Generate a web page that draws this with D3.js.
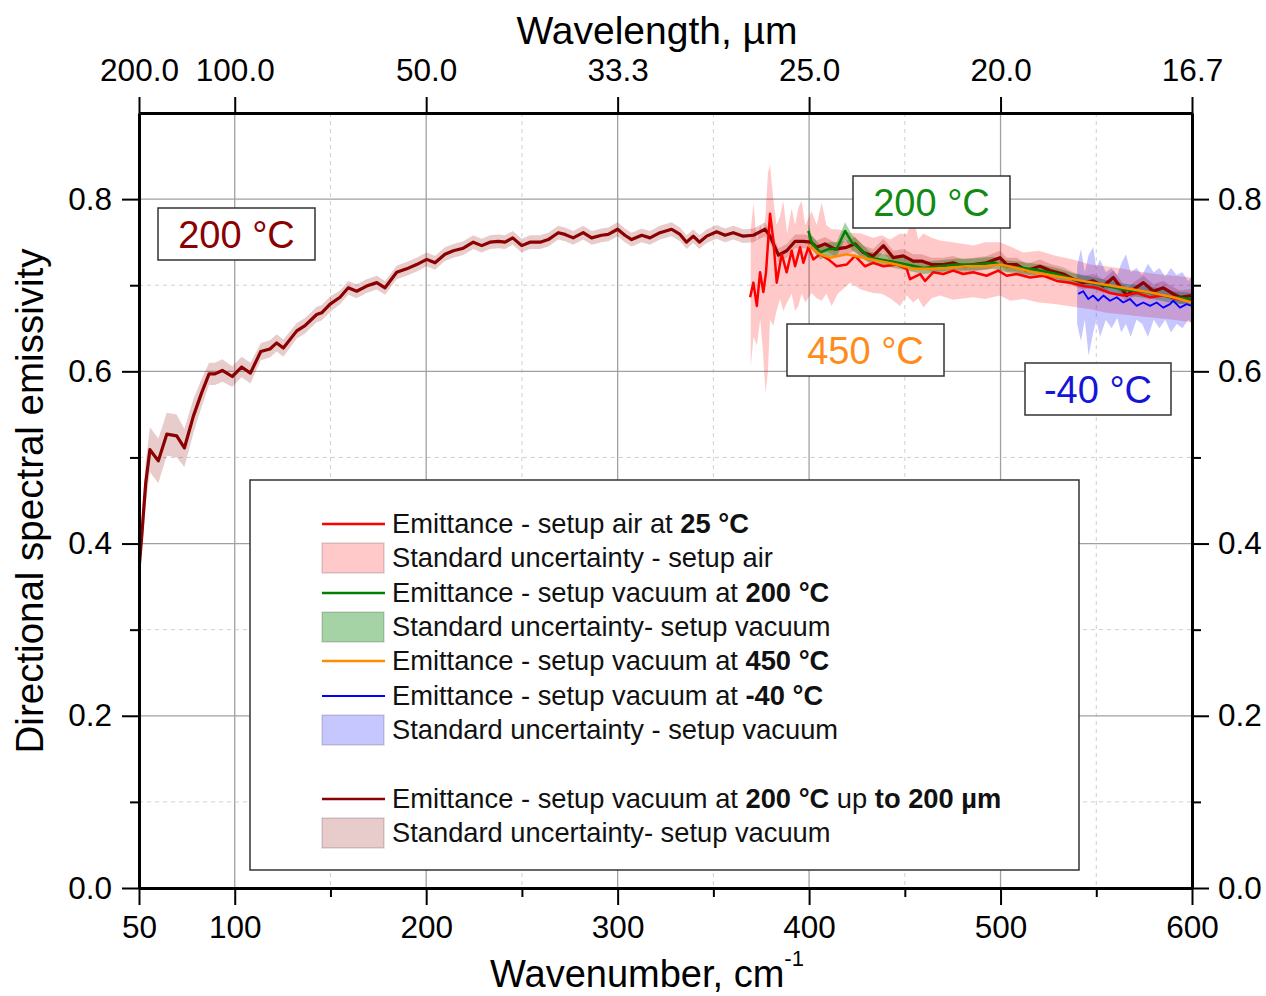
<!DOCTYPE html>
<html><head><meta charset="utf-8">
<script src="https://cdn.jsdelivr.net/npm/d3@7"></script>
<style>
html,body{margin:0;padding:0;background:#fff;}
svg{display:block;font-family:"Liberation Sans",Arial,sans-serif;}
</style></head>
<body><svg id="c" width="1266" height="996"></svg>
<script>
// ---------- DATA ----------
// x tick values (wavenumber, cm-1) and top-axis wavelength labels (µm)
const xMajorTicks = [50,100,200,300,400,500,600];
const xMinorTicks = [150,250,350,450,550];
const topTickLabels = ["200.0","100.0","50.0","33.3","25.0","20.0","16.7"];
const yMajorTicks = [0.0,0.2,0.4,0.6,0.8];
const yMinorTicks = [0.1,0.3,0.5,0.7];

// Emittance - setup vacuum at 200 °C up to 200 µm (dark red) + standard uncertainty
const darkX = [50,51.4,53.5,55.7,60.1,64.5,69.7,73.7,78.4,82.7,86.6,89.7,93.5,98.7,103.6,108.2,113.6,118.4,121.9,125.4,132.4,136.7,142.8,145.4,149.8,155,159.3,163.7,168.9,174.2,178.5,184.6,189.8,195,200.3,204.6,209.8,214.2,219.4,224.6,229,233.3,237.7,241.2,245.2,249.9,254.2,259.5,263.8,269,272.5,276.8,282,286.4,291.6,295.1,300,303.8,307.3,312.6,316.9,322.1,328.2,332.6,336,339.5,342.7,346.5,351.7,356.1,360.4,365.6,370.9,377,379.6,384,388.3,392.7,397,401,404,408.3,413.5,419.6,424,428.3,433.5,438.8,444,449.2,454.4,458.8,464,470.1,475.3,480.5,485.8,492.7,499.7,503.2,508.4,513.6,520.6,525.8,532.8,538,543.2,548.4,553.7,558.9,565.9,569.3,574.6,579.8,585,590.2,593.7,600];
const darkY = [0.370,0.408,0.470,0.509,0.496,0.527,0.525,0.511,0.548,0.575,0.597,0.597,0.601,0.594,0.605,0.598,0.623,0.626,0.633,0.627,0.647,0.653,0.666,0.668,0.678,0.686,0.697,0.693,0.699,0.703,0.697,0.715,0.719,0.724,0.730,0.726,0.736,0.740,0.743,0.750,0.746,0.750,0.751,0.750,0.755,0.746,0.750,0.750,0.753,0.761,0.759,0.755,0.761,0.755,0.758,0.759,0.765,0.758,0.753,0.758,0.755,0.761,0.765,0.759,0.750,0.757,0.750,0.757,0.762,0.758,0.761,0.757,0.758,0.765,0.757,0.735,0.740,0.751,0.751,0.750,0.744,0.748,0.742,0.744,0.748,0.738,0.734,0.746,0.732,0.734,0.728,0.728,0.724,0.724,0.726,0.722,0.724,0.726,0.732,0.724,0.724,0.717,0.722,0.717,0.713,0.707,0.703,0.705,0.699,0.709,0.688,0.695,0.703,0.693,0.697,0.690,0.686,0.688];
const darkU = [0.020,0.022,0.025,0.026,0.026,0.025,0.025,0.022,0.020,0.016,0.013,0.013,0.013,0.012,0.012,0.012,0.010,0.010,0.010,0.010,0.009,0.009,0.009,0.009,0.009,0.008,0.008,0.008,0.008,0.008,0.008,0.008,0.008,0.008,0.008,0.008,0.008,0.008,0.008,0.008,0.008,0.008,0.008,0.008,0.008,0.008,0.008,0.008,0.008,0.008,0.008,0.008,0.008,0.008,0.008,0.008,0.008,0.008,0.008,0.008,0.008,0.008,0.008,0.008,0.008,0.008,0.008,0.008,0.008,0.008,0.008,0.008,0.008,0.008,0.008,0.008,0.008,0.008,0.008,0.008,0.008,0.008,0.008,0.008,0.008,0.008,0.008,0.008,0.008,0.008,0.008,0.008,0.008,0.008,0.008,0.008,0.008,0.008,0.008,0.008,0.008,0.008,0.008,0.008,0.008,0.008,0.008,0.008,0.008,0.008,0.008,0.008,0.008,0.008,0.008,0.008,0.008,0.008];

// Emittance - setup air at 25 °C (red)
const airX = [369.2,370.9,372.7,374.4,376.1,377.5,379.6,381.3,383.1,385.7,388.3,390.9,392.7,395.3,397,399.6,402.2,405.7,410.1,414.4,419.6,424,429.2,433.5,438.8,445.8,451,452.7,458,460.6,464.8,470.1,475.3,480.5,485.8,492.7,498.8,503.2,508.4,515.4,522.4,529.3,536.3,543.2,550.2,557.2,564.1,571.1,578.1,585,592,600];
const airY = [0.686,0.703,0.676,0.715,0.692,0.715,0.783,0.753,0.703,0.736,0.715,0.740,0.722,0.744,0.726,0.744,0.730,0.736,0.730,0.722,0.724,0.734,0.722,0.726,0.722,0.724,0.719,0.707,0.713,0.705,0.715,0.713,0.717,0.713,0.715,0.711,0.717,0.711,0.713,0.709,0.711,0.705,0.703,0.699,0.697,0.691,0.688,0.691,0.686,0.688,0.684,0.682];
// Standard uncertainty - setup air (band limits)
const airBandX  = [369.5,371,372.7,374.5,376,377.2,378.5,379.6,381.3,383,384.8,386.5,388.5,390.9,392.7,394.4,396.1,398,401.3,404,406.6,409,411.8,415,421.4,427,433.5,438,442.3,447.5,451,454.4,457,459.7,464,468.4,475,485.8,492,499.7,505,511.9,520,529.3,538,546.7,555,564,572,581.5,590,600];
const airBandLo = [0.605,0.640,0.630,0.660,0.620,0.575,0.600,0.660,0.653,0.670,0.684,0.670,0.680,0.690,0.670,0.676,0.690,0.680,0.691,0.685,0.682,0.690,0.676,0.690,0.703,0.695,0.691,0.690,0.685,0.676,0.688,0.680,0.685,0.674,0.685,0.688,0.683,0.686,0.684,0.688,0.682,0.684,0.680,0.678,0.675,0.672,0.668,0.666,0.664,0.662,0.660,0.657];
const airBandHi = [0.765,0.795,0.750,0.770,0.760,0.780,0.830,0.840,0.800,0.770,0.780,0.798,0.760,0.789,0.770,0.790,0.798,0.770,0.786,0.770,0.796,0.770,0.765,0.765,0.761,0.760,0.755,0.758,0.753,0.760,0.759,0.781,0.753,0.760,0.755,0.752,0.750,0.746,0.750,0.750,0.745,0.738,0.740,0.734,0.730,0.724,0.722,0.719,0.716,0.713,0.711,0.709];

// Emittance - setup vacuum at 200 °C (green) + uncertainty
const vac200X = [399.6,401.3,405.7,410.1,414.4,418.8,422.3,426.6,431.8,437.1,442.3,451,459.7,468.4,477.1,485.8,496.3,503.2,511.9,520.6,529.3,538,546.7,555.4,564.1,572.8,581.5,590.2,600];
const vac200Y = [0.763,0.750,0.738,0.742,0.742,0.763,0.750,0.742,0.732,0.730,0.728,0.724,0.720,0.722,0.724,0.724,0.726,0.722,0.720,0.717,0.713,0.707,0.703,0.699,0.695,0.693,0.690,0.686,0.684];
const vac200U = [0.008,0.008,0.008,0.008,0.008,0.010,0.009,0.008,0.007,0.007,0.007,0.007,0.007,0.007,0.007,0.007,0.007,0.007,0.007,0.007,0.007,0.007,0.007,0.007,0.007,0.007,0.007,0.007,0.007];

// Emittance - setup vacuum at 450 °C (orange)
const vac450X = [399.6,405.7,410.9,419.6,428.3,437.1,445.8,454.4,463.1,471.9,482.3,492.7,499.7,508.4,517.1,527.6,538,548.4,558.9,569.3,579.8,590.2,600];
const vac450Y = [0.746,0.736,0.732,0.736,0.732,0.728,0.724,0.719,0.719,0.720,0.722,0.722,0.724,0.720,0.715,0.711,0.707,0.703,0.699,0.695,0.691,0.686,0.680];

// Emittance - setup vacuum at -40 °C (blue) + uncertainty band
const vacM40X = [540.6,543.2,545.8,548.4,551,553.7,557.2,560.7,564.1,567.6,571.1,574.6,578.1,581.5,585,588.5,590.2,593.7,597.2,600];
const vacM40Y = [0.690,0.693,0.684,0.688,0.682,0.688,0.682,0.686,0.680,0.684,0.676,0.680,0.676,0.680,0.674,0.678,0.682,0.674,0.678,0.676];
const m40BandX  = [540,542,544,546,548.4,550,552,555,558,561,563,565.5,568,571,574,577,580,583,586,589,592,595,598,600];
const m40BandLo = [0.655,0.635,0.660,0.618,0.645,0.660,0.640,0.660,0.650,0.662,0.645,0.655,0.640,0.660,0.655,0.640,0.660,0.650,0.660,0.645,0.655,0.650,0.660,0.655];
const m40BandHi = [0.722,0.742,0.715,0.735,0.744,0.720,0.730,0.715,0.720,0.712,0.725,0.736,0.715,0.720,0.712,0.725,0.715,0.720,0.710,0.720,0.712,0.715,0.705,0.710];

// Colours
const C = {
  dark:"#8b0000", darkBand:"rgba(139,0,0,0.2)",
  air:"#ff0000", airBand:"rgba(255,0,0,0.21)",
  green:"#008000", greenBand:"rgba(0,128,0,0.35)",
  orange:"#ff8c00", blue:"#0000ff", blueBand:"rgba(0,0,255,0.22)"
};

// ---------- CHART ----------
const svg = d3.select("#c");
const L=139,R=1192,T=113,B=888;
const x = d3.scaleLinear().domain([50,600]).range([L,R]);
const y = d3.scaleLinear().domain([0,0.9]).range([B,T]);

// grid
const g = svg.append("g");
g.selectAll(".gxm").data(xMajorTicks.filter(v=>v>50&&v<600)).join("line")
  .attr("x1",d=>x(d)).attr("x2",d=>x(d)).attr("y1",T).attr("y2",B)
  .attr("stroke","#a0a0a0").attr("stroke-width",1.3);
g.selectAll(".gxn").data(xMinorTicks).join("line")
  .attr("x1",d=>x(d)).attr("x2",d=>x(d)).attr("y1",T).attr("y2",B)
  .attr("stroke","#cfcfcf").attr("stroke-width",1).attr("stroke-dasharray","4,4");
g.selectAll(".gym").data(yMajorTicks.filter(v=>v>0)).join("line")
  .attr("y1",d=>y(d)).attr("y2",d=>y(d)).attr("x1",L).attr("x2",R)
  .attr("stroke","#a0a0a0").attr("stroke-width",1.3);
g.selectAll(".gyn").data(yMinorTicks).join("line")
  .attr("y1",d=>y(d)).attr("y2",d=>y(d)).attr("x1",L).attr("x2",R)
  .attr("stroke","#cfcfcf").attr("stroke-width",1).attr("stroke-dasharray","4,4");

// bands
function bandXY(xs, lo, hi){ return d3.area().x((d,i)=>x(xs[i])).y0((d,i)=>y(lo[i])).y1((d,i)=>y(hi[i]))(xs); }
function lineXY(xs, ys){ return d3.line().x((d,i)=>x(xs[i])).y((d,i)=>y(ys[i]))(xs); }
svg.append("clipPath").attr("id","pc").append("rect").attr("x",L).attr("y",T).attr("width",R-L).attr("height",B-T);
const pg = svg.append("g").attr("clip-path","url(#pc)");

pg.append("path").attr("d",bandXY(darkX, darkY.map((v,i)=>v-darkU[i]), darkY.map((v,i)=>v+darkU[i]))).attr("fill",C.darkBand);
pg.append("path").attr("d",bandXY(airBandX, airBandLo, airBandHi)).attr("fill",C.airBand);
pg.append("path").attr("d",bandXY(vac200X, vac200Y.map((v,i)=>v-vac200U[i]), vac200Y.map((v,i)=>v+vac200U[i]))).attr("fill",C.greenBand);
pg.append("path").attr("d",bandXY(m40BandX, m40BandLo, m40BandHi)).attr("fill",C.blueBand);

// lines
pg.append("path").attr("d",lineXY(darkX,darkY)).attr("fill","none").attr("stroke",C.dark).attr("stroke-width",3.2).attr("stroke-linejoin","round");
pg.append("path").attr("d",lineXY(airX,airY)).attr("fill","none").attr("stroke",C.air).attr("stroke-width",2.5).attr("stroke-linejoin","round");
pg.append("path").attr("d",lineXY(vac200X,vac200Y)).attr("fill","none").attr("stroke",C.green).attr("stroke-width",2.5).attr("stroke-linejoin","round");
pg.append("path").attr("d",lineXY(vac450X,vac450Y)).attr("fill","none").attr("stroke",C.orange).attr("stroke-width",2.5).attr("stroke-linejoin","round");
pg.append("path").attr("d",lineXY(vacM40X,vacM40Y)).attr("fill","none").attr("stroke",C.blue).attr("stroke-width",1.8).attr("stroke-linejoin","round");

// axes
const TICK_FS = 31.5;
function styleAxis(sel, fs){
  sel.select(".domain").attr("stroke","#000").attr("stroke-width",3);
  sel.selectAll(".tick line").attr("stroke","#000").attr("stroke-width",2);
  sel.selectAll(".tick text").attr("font-size",fs).attr("fill","#000").attr("font-family","Liberation Sans, Arial, sans-serif");
}
const fmt1 = d3.format(".1f");
svg.append("g").attr("transform",`translate(0,${B})`)
  .call(d3.axisBottom(x).tickValues(xMajorTicks).tickFormat(d3.format("d")).tickSize(17).tickSizeOuter(0).tickPadding(11))
  .call(s=>styleAxis(s,TICK_FS));
svg.append("g").attr("transform",`translate(0,${B})`)
  .call(d3.axisBottom(x).tickValues(xMinorTicks).tickFormat("").tickSize(9).tickSizeOuter(0))
  .call(s=>styleAxis(s,TICK_FS));
svg.append("g").attr("transform",`translate(0,${T})`)
  .call(d3.axisTop(x).tickValues(xMajorTicks).tickFormat((d,i)=>topTickLabels[i]).tickSize(16).tickSizeOuter(0).tickPadding(16))
  .call(s=>styleAxis(s,TICK_FS));
svg.append("g").attr("transform",`translate(${L},0)`)
  .call(d3.axisLeft(y).tickValues(yMajorTicks).tickFormat(fmt1).tickSize(17).tickSizeOuter(0).tickPadding(10))
  .call(s=>styleAxis(s,TICK_FS));
svg.append("g").attr("transform",`translate(${L},0)`)
  .call(d3.axisLeft(y).tickValues(yMinorTicks).tickFormat("").tickSize(9).tickSizeOuter(0))
  .call(s=>styleAxis(s,TICK_FS));
svg.append("g").attr("transform",`translate(${R},0)`)
  .call(d3.axisRight(y).tickValues(yMajorTicks).tickFormat(fmt1).tickSize(17).tickSizeOuter(0).tickPadding(9))
  .call(s=>styleAxis(s,TICK_FS));
svg.append("g").attr("transform",`translate(${R},0)`)
  .call(d3.axisRight(y).tickValues(yMinorTicks).tickFormat("").tickSize(9).tickSizeOuter(0))
  .call(s=>styleAxis(s,TICK_FS));

// axis titles
svg.append("text").attr("x",657).attr("y",44).attr("text-anchor","middle").attr("font-size",39).text("Wavelength, µm");
const xt = svg.append("text").attr("x",647).attr("y",987).attr("text-anchor","middle").attr("font-size",38);
xt.append("tspan").text("Wavenumber, cm");
xt.append("tspan").attr("font-size",22).attr("dy",-21).text("-1");
svg.append("text").attr("transform","translate(43,501) rotate(-90)").attr("text-anchor","middle").attr("font-size",38.5).text("Directional spectral emissivity");

// annotation boxes
const notes = [
  {x:158,y:208,w:157,h:52,text:"200 °C",color:C.dark},
  {x:853,y:176,w:157,h:52,text:"200 °C",color:"#118a11"},
  {x:787,y:324,w:157,h:52,text:"450 °C",color:"#ff8c1a"},
  {x:1025,y:363,w:146,h:52,text:"-40 °C",color:"#1515d8"}
];
notes.forEach(n=>{
  svg.append("rect").attr("x",n.x).attr("y",n.y).attr("width",n.w).attr("height",n.h).attr("fill","#fff").attr("stroke","#333").attr("stroke-width",1.5);
  svg.append("text").attr("x",n.x+n.w/2).attr("y",n.y+n.h/2+13.5).attr("text-anchor","middle").attr("font-size",38).attr("fill",n.color).text(n.text);
});

// legend
svg.append("rect").attr("x",250).attr("y",480).attr("width",829).attr("height",390).attr("fill","#fff").attr("stroke","#333").attr("stroke-width",1.5);
const legendRows = [
  {kind:"line",color:C.air,parts:[["Emittance - setup air at ",0],["25 °C",1]]},
  {kind:"box",color:C.airBand,parts:[["Standard uncertainty - setup air",0]]},
  {kind:"line",color:C.green,parts:[["Emittance - setup vacuum at ",0],["200 °C",1]]},
  {kind:"box",color:C.greenBand,parts:[["Standard uncertainty- setup vacuum",0]]},
  {kind:"line",color:C.orange,parts:[["Emittance - setup vacuum at ",0],["450 °C",1]]},
  {kind:"line",color:C.blue,parts:[["Emittance - setup vacuum at ",0],["-40 °C",1]]},
  {kind:"box",color:C.blueBand,parts:[["Standard uncertainty - setup vacuum",0]]},
  {kind:"line",color:C.dark,parts:[["Emittance - setup vacuum at ",0],["200 °C",1],[" up ",0],["to 200 µm",1]]},
  {kind:"box",color:C.darkBand,parts:[["Standard uncertainty- setup vacuum",0]]}
];
const rowY = [524,558,593,627,661,696,730,799,833];
legendRows.forEach((r,i)=>{
  const cy = rowY[i];
  if(r.kind==="line"){
    svg.append("line").attr("x1",322).attr("x2",385).attr("y1",cy).attr("y2",cy).attr("stroke",r.color).attr("stroke-width",r.color===C.blue?2:2.5);
  } else {
    svg.append("rect").attr("x",322).attr("y",cy-15).attr("width",62).attr("height",30).attr("fill",r.color).attr("stroke","rgba(0,0,0,0.15)").attr("stroke-width",1.5);
  }
  const t = svg.append("text").attr("x",392).attr("y",cy+9).attr("font-size",27.3).attr("fill","#111");
  r.parts.forEach(p=>t.append("tspan").attr("font-weight",p[1]?"bold":"normal").text(p[0]));
});
</script></body></html>
